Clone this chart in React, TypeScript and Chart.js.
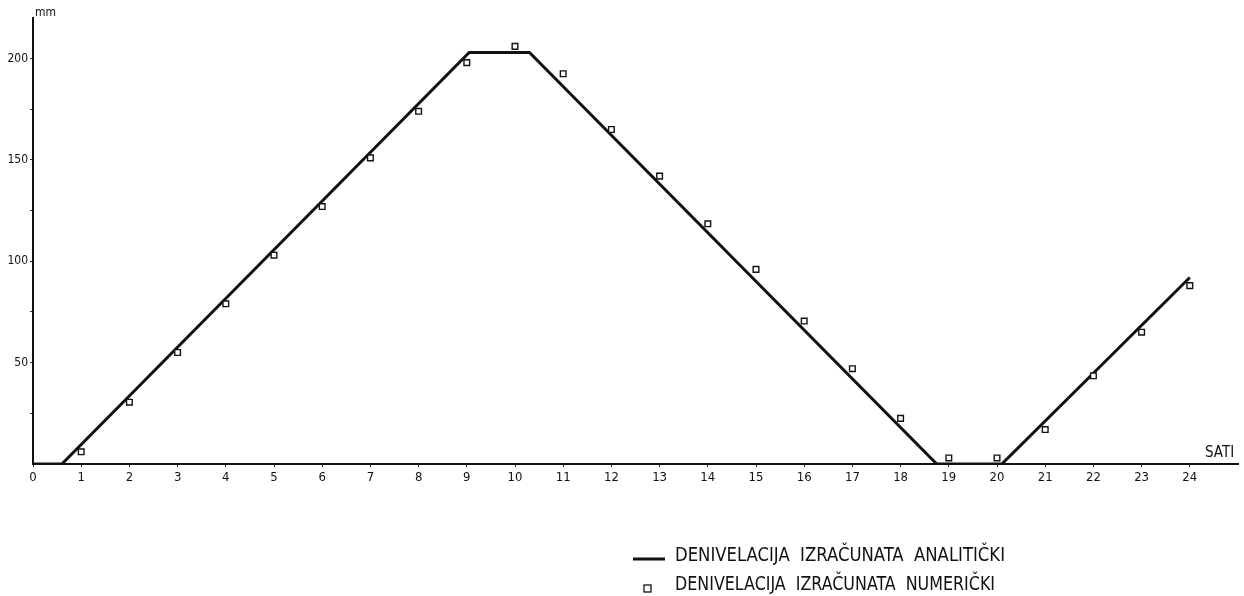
import React, { useEffect, useRef } from "react";
import { Chart, registerables } from "chart.js";

Chart.register(...registerables);

// Analytical solution (polyline vertices: hour, mm)
const analyticHours = [0, 0.6, 9.05, 10.3, 18.75, 20.1, 24];
const analyticValues = [0, 0, 203, 203, 0, 0, 92];

// Numerical solution (hour, mm)
const numericHours = [1, 2, 3, 4, 5, 6, 7, 8, 9, 10, 11, 12, 13, 14, 15, 16, 17, 18, 19, 20, 21, 22, 23, 24];
const numericValues = [6, 30.5, 55, 79, 103, 127, 151, 174, 198, 206, 192.5, 165, 142, 118.5, 96, 70.5, 47, 22.5, 3, 3, 17, 43.5, 65, 88];

const xTickValues = [0, 1, 2, 3, 4, 5, 6, 7, 8, 9, 10, 11, 12, 13, 14, 15, 16, 17, 18, 19, 20, 21, 22, 23, 24];
const yTickValues = [25, 50, 75, 100, 125, 150, 175, 200];
const yLabelValues = [50, 100, 150, 200];

const legendLabels = ["DENIVELACIJA  IZRAČUNATA  ANALITIČKI", "DENIVELACIJA  IZRAČUNATA  NUMERIČKI"];
const xTitle = "SATI";
const yTitle = "mm";

const FONT = "'DejaVu Sans Condensed', 'Liberation Sans Narrow', 'DejaVu Sans', sans-serif";

const overlayPlugin = {
  id: "overlay",
  afterDraw(chart: any) {
    const ctx = chart.ctx as CanvasRenderingContext2D;
    const area = chart.chartArea;
    ctx.save();
    ctx.fillStyle = "#111";
    // axis titles
    ctx.font = `12px ${FONT}`;
    ctx.textBaseline = "alphabetic";
    ctx.textAlign = "left";
    ctx.fillText(yTitle, area.left + 2, area.top - 2);
    ctx.font = `15px ${FONT}`;
    ctx.fillText(xTitle, area.right - 33, area.bottom - 7, 33);

    // legend
    const lx = 675;
    const y1 = 556;
    const y2 = 585;
    ctx.strokeStyle = "#111";
    ctx.lineWidth = 3;
    ctx.beginPath();
    ctx.moveTo(633, 559);
    ctx.lineTo(665, 559);
    ctx.stroke();
    ctx.lineWidth = 1.3;
    ctx.fillStyle = "#fff";
    ctx.fillRect(644, 585, 7, 7);
    ctx.strokeRect(644, 585, 7, 7);
    ctx.fillStyle = "#111";
    ctx.font = `20px ${FONT}`;
    ctx.textBaseline = "middle";
    ctx.fillText(legendLabels[0], lx, y1, 330);
    ctx.fillText(legendLabels[1], lx, y2, 320);
    ctx.restore();
  },
};

export default function App() {
  const ref = useRef<HTMLCanvasElement>(null);
  useEffect(() => {
    if (!ref.current) return;
    const chart = new Chart(ref.current, {
      type: "scatter",
      data: {
        datasets: [
          {
            type: "line",
            label: legendLabels[0],
            data: analyticHours.map((h, i) => ({ x: h, y: analyticValues[i] })),
            borderColor: "#111",
            borderWidth: 3,
            pointRadius: 0,
            fill: false,
            tension: 0,
            order: 2,
          } as any,
          {
            type: "scatter",
            label: legendLabels[1],
            data: numericHours.map((h, i) => ({ x: h, y: numericValues[i] })),
            pointStyle: "rect",
            pointRadius: 4,
            backgroundColor: "#fff",
            borderColor: "#111",
            borderWidth: 1.4,
            order: 1,
          } as any,
        ],
      },
      options: {
        responsive: false,
        animation: false,
        layout: { padding: { left: 0, top: 18, right: 6, bottom: 102 } },
        plugins: { legend: { display: false }, tooltip: { enabled: false } },
        scales: {
          x: {
            type: "linear",
            min: 0,
            max: 25,
            afterBuildTicks: (s: any) => {
              s.ticks = xTickValues.map((v) => ({ value: v }));
            },
            afterFit: (s: any) => {
              s.height = 30;
            },
            border: { display: true, color: "#111", width: 2 },
            grid: { drawOnChartArea: false, drawTicks: true, tickLength: 3, color: "#333", tickWidth: 1 },
            ticks: {
              autoSkip: false,
              maxRotation: 0,
              color: "#111",
              font: { family: FONT, size: 13 },
              padding: 3,
              callback: (v: any) => String(v),
            },
          },
          y: {
            type: "linear",
            min: 0,
            max: 220,
            afterBuildTicks: (s: any) => {
              s.ticks = yTickValues.map((v) => ({ value: v }));
            },
            afterFit: (s: any) => {
              s.width = 33;
            },
            border: { display: true, color: "#111", width: 2 },
            grid: { drawOnChartArea: false, drawTicks: true, tickLength: 3, color: "#333", tickWidth: 1 },
            ticks: {
              autoSkip: false,
              color: "#111",
              font: { family: FONT, size: 12 },
              padding: 2,
              callback: (v: any) => (yLabelValues.includes(Number(v)) ? String(v) : ""),
            },
          },
        },
      },
      plugins: [overlayPlugin],
    });
    return () => chart.destroy();
  }, []);
  return (
    <div style={{ position: "absolute", left: 0, top: 0, width: 1244, height: 596, background: "#fff" }}>
      <canvas ref={ref} width={1244} height={596} style={{ width: 1244, height: 596 }} />
    </div>
  );
}
